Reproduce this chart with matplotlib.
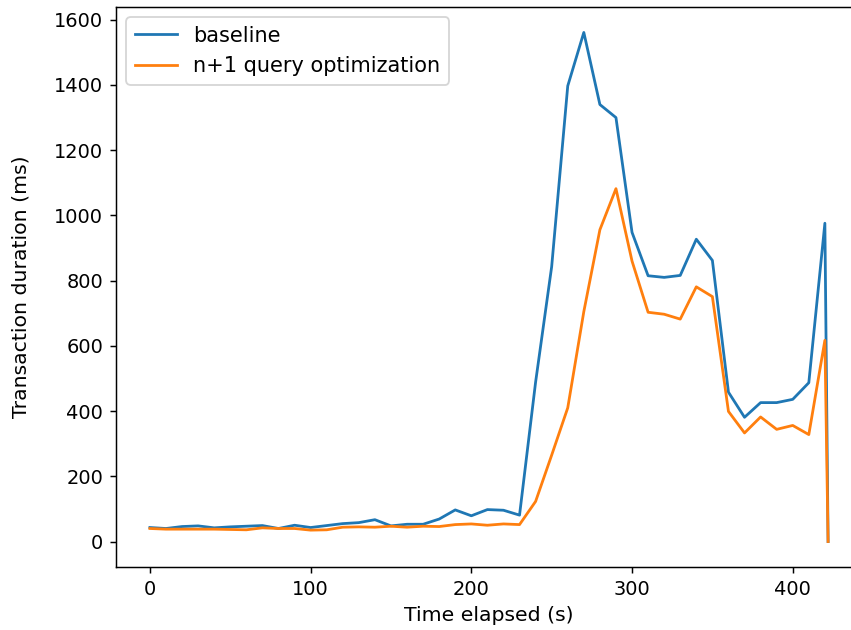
import matplotlib
matplotlib.use("Agg")
import matplotlib.pyplot as plt

time_s = [0, 10, 20, 30, 40, 50, 60, 70, 80, 90, 100, 110, 120, 130, 140, 150,
          160, 170, 180, 190, 200, 210, 220, 230, 240, 250, 260, 270, 280, 290,
          300, 310, 320, 330, 340, 350, 360, 370, 380, 390, 400, 410, 420, 422]

baseline = [43, 40, 46, 48, 42, 45, 47, 49, 40, 50, 43, 49, 55, 58, 67, 48,
            53, 53, 69, 97, 79, 98, 96, 81, 489, 843, 1397, 1561, 1340, 1300,
            948, 815, 810, 816, 927, 862, 458, 381, 426, 426, 436, 487, 976, 0]

optimized = [40, 38, 38, 38, 38, 37, 36, 42, 40, 40, 35, 36, 44, 45, 44, 47,
             44, 47, 46, 52, 54, 50, 54, 52, 123, 265, 410, 705, 956, 1082,
             860, 703, 697, 682, 781, 751, 399, 333, 382, 344, 356, 328, 617, 0]

series_labels = ["baseline", "n+1 query optimization"]
x_label = "Time elapsed (s)"
y_label = "Transaction duration (ms)"

fig = plt.figure(figsize=(851 / 133, 630 / 133), dpi=133)
ax = fig.add_axes([116 / 851, 63 / 630, 746 / 851, 560 / 630])
ax.plot(time_s, baseline, label=series_labels[0])
ax.plot(time_s, optimized, label=series_labels[1])
ax.set_xlabel(x_label, fontsize=11)
ax.set_ylabel(y_label, fontsize=11, labelpad=12.5)
ax.tick_params(labelsize=10.5)
ax.spines["right"].set_visible(False)
ax.legend(loc="upper left", fontsize=11.3)
fig.savefig("out.png", dpi=133)
